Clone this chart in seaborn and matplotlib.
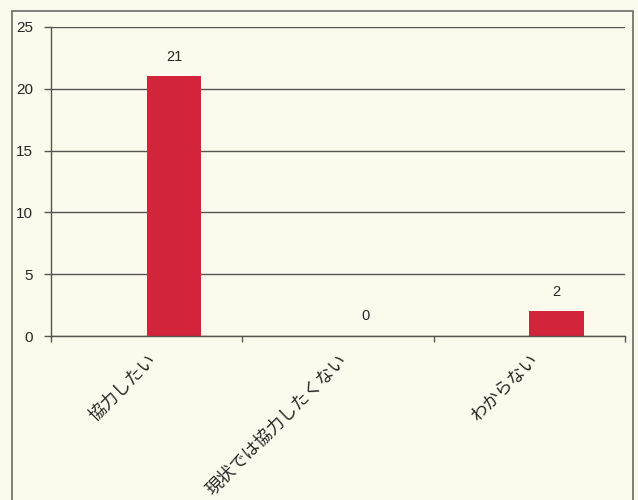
import matplotlib
matplotlib.use("Agg")
import matplotlib.pyplot as plt
import seaborn as sns
import pandas as pd
from matplotlib.patches import Rectangle
from matplotlib.ticker import FixedLocator

categories = ["協力したい", "現状では協力したくない", "わからない"]
values = [21, 0, 2]
y_ticks = [0, 5, 10, 15, 20, 25]
series_name = "回答数"

sns.set_theme(style="white")
plt.rcParams["font.family"] = ["Liberation Sans", "Noto Sans CJK JP", "DejaVu Sans"]

bg = "#fcfaec"
bar_color = "#d2243a"
line_color = "#55554f"
text_color = "#262626"

df = pd.DataFrame({"category": categories, "value": values, "series": series_name})

fig = plt.figure(figsize=(6.38, 5.0), dpi=100)
fig.patch.set_facecolor(bg)
ax = fig.add_axes([51 / 638, 1 - 336 / 500, 574 / 638, 309 / 500])
ax.set_facecolor(bg)

sns.barplot(data=df, x="category", y="value", hue="series",
            hue_order=["_blank", series_name],
            palette={"_blank": bar_color, series_name: bar_color},
            order=categories, width=0.57, dodge=True, linewidth=0,
            saturation=1, legend=False, ax=ax)

for cont in ax.containers:
    if len(cont) and cont.datavalues is not None:
        ax.bar_label(cont, fmt="%d", padding=9, fontsize=10.5, color=text_color)

ax.set_xlim(-0.5, len(categories) - 0.5)
ax.set_ylim(0, 25)
ax.set_yticks(y_ticks)
ax.set_yticklabels([str(t) for t in y_ticks], fontsize=11, color=text_color)
ax.yaxis.grid(True, color=line_color, linewidth=1.0)
ax.set_axisbelow(True)
ax.set_xlabel("")
ax.set_ylabel("")

ax.set_xticks(range(len(categories)))
ax.set_xticklabels(categories, rotation=45, ha="right", rotation_mode="anchor",
                   fontsize=12.5, color=text_color,
                   family=["Noto Sans CJK JP", "DejaVu Sans"])
ax.tick_params(axis="x", which="major", length=0, pad=11)
ax.xaxis.set_minor_locator(FixedLocator([-0.5, 0.5, 1.5, 2.5]))
ax.tick_params(axis="x", which="minor", bottom=True, length=4, width=1, color=line_color)
ax.tick_params(axis="y", left=True, length=5, width=1, color=line_color, pad=8)

for side in ["top", "right"]:
    ax.spines[side].set_visible(False)
for side in ["left", "bottom"]:
    ax.spines[side].set_visible(True)
    ax.spines[side].set_color(line_color)
    ax.spines[side].set_linewidth(1.0)

fig.patches.append(Rectangle((12 / 638, -0.02), 621 / 638, 1.02 - 11 / 500,
                             transform=fig.transFigure, fill=False,
                             edgecolor="#6a6a66", linewidth=1.2, zorder=0))

fig.savefig("out.png", dpi=100, facecolor=bg)
